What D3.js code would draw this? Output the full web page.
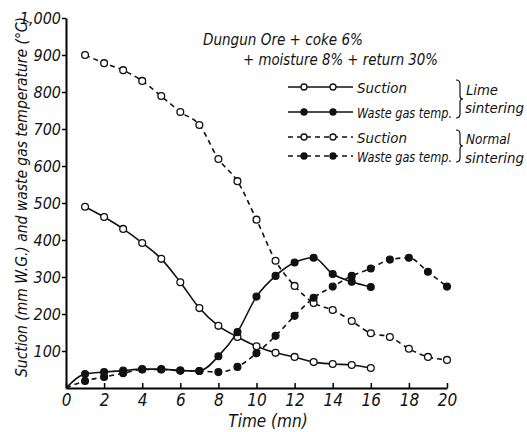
<!DOCTYPE html>
<html>
<head>
<meta charset="utf-8">
<script src="https://cdn.jsdelivr.net/npm/d3@7"></script>
<style>
  body { margin: 0; background: #fff; }
  text { font-family: 'DejaVu Sans', sans-serif; font-stretch: condensed; font-style: italic; fill: #111; }
</style>
</head>
<body>
<script>
// data
var timeLime = [1,2,3,4,5,6,7,8,9,10,11,12,13,14,15,16];
var limeSuction = [490,462,430,392,349,286,216,168,138,113,95,84,70,65,62,54];
var timeLimeGas = [0,1,2,3,4,5,6,7,8,9,10,11,12,13,14,15,16];
var limeWasteGas = [0,38,43,47,51,51,47,46,86,151,247,303,339,352,308,287,273];
var timeNormal = [1,2,3,4,5,6,7,8,9,10,11,12,13,14,15,16,17,18,19,20];
var normalSuction = [900,878,859,830,789,746,711,619,559,455,344,276,230,211,181,148,138,106,84,76];
var timeNormalGas = [0,1,2,3,4,5,6,7,8,9,10,11,12,13,14,15,16,17,18,19,20];
var normalWasteGas = [0,19,30,40,50,50,47,46,43,57,94,141,195,244,274,303,323,347,352,314,274];

var xTicks = [0,2,4,6,8,10,12,14,16,18,20];
var yTicks = [100,200,300,400,500,600,700,800,900,1000];
var legendLabels = ["Suction", "Waste gas temp.", "Suction", "Waste gas temp."];

var svgWidth = 527, svgHeight = 432;

var svg = d3.select("body").append("svg")
  .attr("width", svgWidth)
  .attr("height", svgHeight);

var x = d3.scaleLinear().domain([0, 20]).range([66, 447]);
var y = d3.scaleLinear().domain([0, 1000]).range([388, 18]);

// axes
var xAxis = svg.append("g")
  .attr("transform", "translate(0,388)")
  .call(d3.axisBottom(x).tickValues(xTicks).tickSizeInner(-5).tickSizeOuter(0).tickPadding(6));
xAxis.select(".domain").attr("stroke-width", 2);
xAxis.selectAll("line").attr("stroke-width", 1.5);
xAxis.selectAll("text").attr("font-size", 17);

var yAxis = svg.append("g")
  .attr("transform", "translate(66,0)")
  .call(d3.axisLeft(y).tickValues(yTicks).tickSize(4).tickSizeOuter(0).tickPadding(1)
    .tickFormat(d3.format(",")));
yAxis.select(".domain").attr("stroke-width", 2);
yAxis.selectAll("text").attr("font-size", 16);
yAxis.selectAll("line").attr("stroke-width", 1.5);

svg.append("text")
  .attr("transform", "translate(27,197) rotate(-90)")
  .attr("text-anchor", "middle")
  .attr("font-size", 16)
  .attr("textLength", 360)
  .attr("lengthAdjust", "spacingAndGlyphs")
  .text("Suction (mm W.G.) and waste gas temperature (°C)");

svg.append("text")
  .attr("x", 268).attr("y", 427)
  .attr("text-anchor", "middle")
  .attr("font-size", 17)
  .text("Time  (mn)");

// series
var series = [
  { t: timeLime, v: limeSuction, dash: null, filled: false },
  { t: timeLimeGas, v: limeWasteGas, dash: null, filled: true },
  { t: timeNormal, v: normalSuction, dash: "5,4", filled: false },
  { t: timeNormalGas, v: normalWasteGas, dash: "5,4", filled: true }
];

var line = d3.line()
  .x(d => x(d[0]))
  .y(d => y(d[1]))
  .curve(d3.curveMonotoneX);

series.forEach(function(s) {
  var pts = s.t.map((t, i) => [t, s.v[i]]);
  svg.append("path")
    .datum(pts)
    .attr("d", line)
    .attr("fill", "none")
    .attr("stroke", "#111")
    .attr("stroke-width", 1.6)
    .attr("stroke-dasharray", s.dash);
  svg.selectAll(null)
    .data(pts.filter(d => d[0] > 0))
    .enter()
    .append("circle")
    .attr("cx", d => x(d[0]))
    .attr("cy", d => y(d[1]))
    .attr("r", 3.4)
    .attr("fill", s.filled ? "#111" : "#fff")
    .attr("stroke", "#111")
    .attr("stroke-width", 1.3);
});

// legend / annotation
svg.append("text").attr("x", 203).attr("y", 45).attr("font-size", 16)
  .attr("textLength", 160).attr("lengthAdjust", "spacingAndGlyphs")
  .text("Dungun Ore + coke 6%");
svg.append("text").attr("x", 243).attr("y", 65).attr("font-size", 16)
  .attr("textLength", 195).attr("lengthAdjust", "spacingAndGlyphs")
  .text("+ moisture 8% + return 30%");

var rowY = [87, 112, 137, 156];
var labelLen = [50, 95, 50, 95];
series.forEach(function(s, i) {
  var g = svg.append("g");
  g.append("line")
    .attr("x1", 288).attr("x2", 353)
    .attr("y1", rowY[i]).attr("y2", rowY[i])
    .attr("stroke", "#111").attr("stroke-width", 1.6)
    .attr("stroke-dasharray", s.dash);
  [304, 333].forEach(function(cx) {
    g.append("circle")
      .attr("cx", cx).attr("cy", rowY[i]).attr("r", 3)
      .attr("fill", s.filled ? "#111" : "#fff")
      .attr("stroke", "#111").attr("stroke-width", 1.3);
  });
  g.append("text")
    .attr("x", 357).attr("y", rowY[i] + 6)
    .attr("font-size", 14)
    .attr("textLength", labelLen[i]).attr("lengthAdjust", "spacingAndGlyphs")
    .text(legendLabels[i]);
});

function brace(top, bottom) {
  var x0 = 456, m = (top + bottom) / 2;
  return "M" + x0 + "," + top + " q4,0 4,4 L" + (x0 + 4) + "," + (m - 3) +
    " q0,3 3,3 q-3,0 -3,3 L" + (x0 + 4) + "," + (bottom - 4) + " q0,4 -4,4";
}
svg.append("path").attr("d", brace(80, 118)).attr("fill", "none").attr("stroke", "#111").attr("stroke-width", 1.2);
svg.append("path").attr("d", brace(130, 162)).attr("fill", "none").attr("stroke", "#111").attr("stroke-width", 1.2);

svg.append("text").attr("x", 466).attr("y", 95).attr("font-size", 14)
  .attr("textLength", 32).attr("lengthAdjust", "spacingAndGlyphs").text("Lime");
svg.append("text").attr("x", 465).attr("y", 113).attr("font-size", 14)
  .attr("textLength", 59).attr("lengthAdjust", "spacingAndGlyphs").text("sintering");
svg.append("text").attr("x", 466).attr("y", 144).attr("font-size", 14)
  .attr("textLength", 44).attr("lengthAdjust", "spacingAndGlyphs").text("Normal");
svg.append("text").attr("x", 465).attr("y", 163).attr("font-size", 14)
  .attr("textLength", 59).attr("lengthAdjust", "spacingAndGlyphs").text("sintering");
</script>
</body>
</html>
